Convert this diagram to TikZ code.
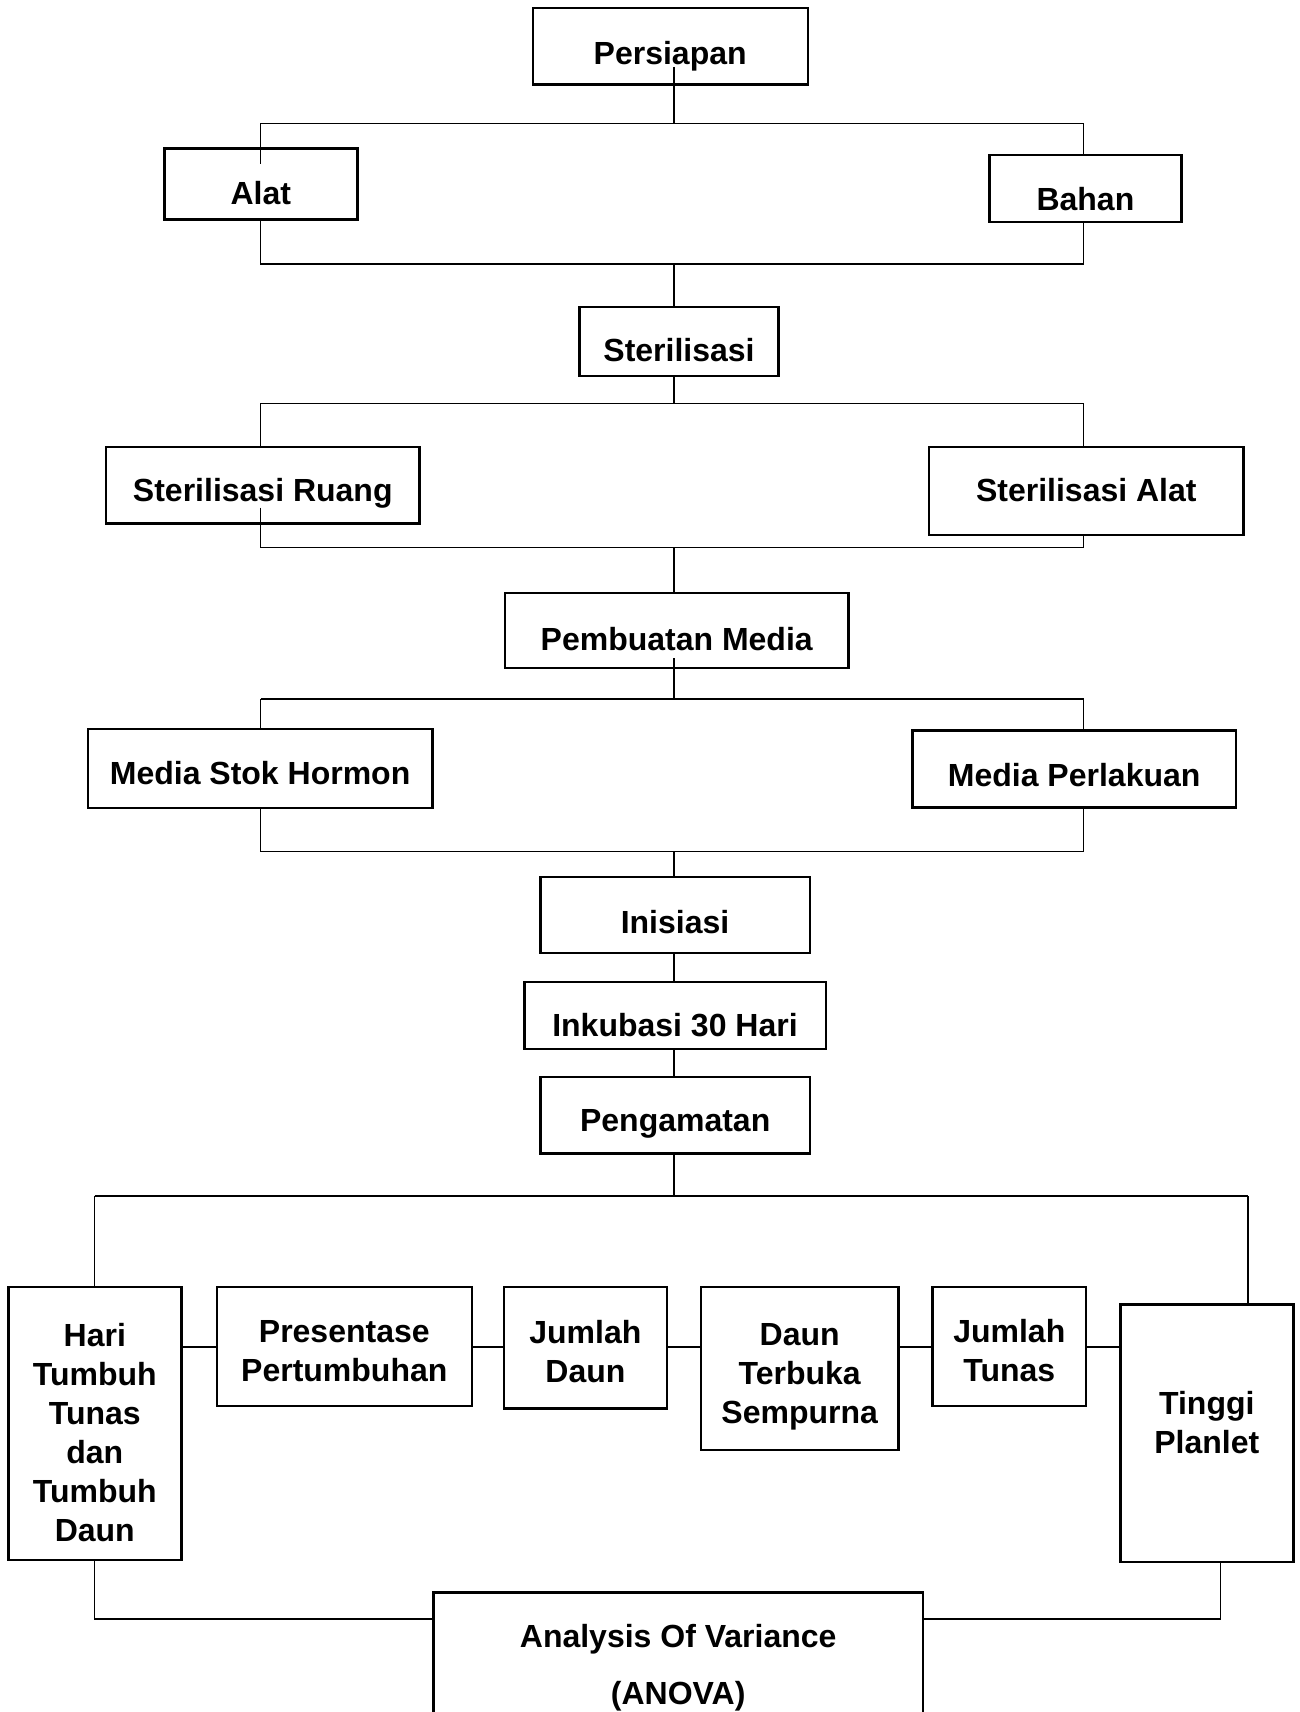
\documentclass[tikz,border=0pt]{standalone}
\usepackage{fontspec}
\setmainfont{Liberation Sans}
\usetikzlibrary{calc}
\tikzset{
  box/.style={draw, line width=2.4pt, rectangle, inner sep=0pt, align=center,
    font=\bfseries\fontsize{32}{39}\selectfont},
  conn/.style={line width=1.1pt},
}
\begin{document}
\begin{tikzpicture}[x=1pt,y=-1pt]
\useasboundingbox (0,0) rectangle (1299,1712);
\clip (0,0) rectangle (1299,1712);
% boxes
\node[box, minimum width=275, minimum height=76.4, text height=37, text depth=0] (persiapan) at (670.2,46.5) {Persiapan};
\node[box, minimum width=193, minimum height=71, text height=40.2, text depth=0] (alat) at (260.8,184.2) {Alat};
\node[box, minimum width=192, minimum height=66.5, text height=45, text depth=0] (bahan) at (1085.4,188.5) {Bahan};
\node[box, minimum width=199.3, minimum height=68.8, text height=40.2, text depth=0] (steril) at (679,341.6) {Sterilisasi};
\node[box, minimum width=313.7, minimum height=76.3, text height=33, text depth=0] (ruang) at (262.8,485.2) {Sterilisasi Ruang};
\node[box, minimum width=314.5, minimum height=88, text height=21, text depth=0] (salat) at (1086.3,491) {Sterilisasi Alat};
\node[box, minimum width=343.8, minimum height=75.3, text height=40, text depth=0] (pembuatan) at (676.7,630.4) {Pembuatan Media};
\node[box, minimum width=344.6, minimum height=79.3, text height=31.4, text depth=0] (stok) at (260.1,768.4) {Media Stok Hormon};
\node[box, minimum width=323.2, minimum height=77, text height=35.4, text depth=0] (perlakuan) at (1074.2,768.8) {Media Perlakuan};
\node[box, minimum width=269.4, minimum height=76.3, text height=36.8, text depth=0] (inisiasi) at (675,914.9) {Inisiasi};
\node[box, minimum width=301.4, minimum height=67.3, text height=41.8, text depth=0] (inkubasi) at (675,1015.4) {Inkubasi 30 Hari};
\node[box, minimum width=269.7, minimum height=76.3, text height=32.6, text depth=0] (pengamatan) at (675.2,1115.2) {Pengamatan};
\node[box, minimum width=173, minimum height=273.3, text height=235.2, text depth=0] (hari) at (94.8,1423.4) {Hari\\Tumbuh\\Tunas\\dan\\Tumbuh\\Daun};
\node[box, minimum width=255.2, minimum height=119, text height=71.2, text depth=0] (pres) at (344.3,1346.2) {Presentase\\Pertumbuhan};
\node[box, minimum width=163, minimum height=121.6, text height=69, text depth=0] (jdaun) at (585.4,1347.5) {Jumlah\\Daun};
\node[box, minimum width=197.3, minimum height=163, text height=109.6, text depth=0] (dts) at (799.7,1368.2) {Daun\\Terbuka\\Sempurna};
\node[box, minimum width=153.7, minimum height=119, text height=71.2, text depth=0] (jtunas) at (1009.3,1346.2) {Jumlah\\Tunas};
\node[box, minimum width=173, minimum height=257.4, text height=40, text depth=0] (tinggi) at (1206.8,1433) {Tinggi\\Planlet};
\node[box, minimum width=489.3, minimum height=166.3, text height=58, text depth=0,
  font=\bfseries\fontsize{32}{57}\selectfont] (anova) at (678.2,1675.8) {Analysis Of Variance\\(ANOVA)};
% junction coordinates
\coordinate (b1l) at (260.5,123.3); \coordinate (b1r) at (1083.5,123.3); \coordinate (b1t) at (674,123.3);
\coordinate (b2l) at (260.5,264); \coordinate (b2r) at (1083.5,264); \coordinate (b2t) at (674,264);
\coordinate (b3l) at (260.5,403.3); \coordinate (b3r) at (1083.5,403.3); \coordinate (b3t) at (674,403.3);
\coordinate (b4l) at (260.5,547.7); \coordinate (b4r) at (1083.5,547.7); \coordinate (b4t) at (674,547.7);
\coordinate (b5l) at (260.5,699); \coordinate (b5r) at (1083.5,699); \coordinate (b5t) at (674,699);
\coordinate (b6l) at (260.5,851.7); \coordinate (b6r) at (1083.5,851.7); \coordinate (b6t) at (674,851.7);
\coordinate (b7l) at (94.5,1196); \coordinate (b7r) at (1248,1196); \coordinate (b7t) at (674,1196);
\coordinate (b8l) at (94.5,1619); \coordinate (b8r) at (1220.5,1619);
\coordinate (row) at (0,1347);
% connectors
\draw[conn] ($(persiapan.south -| b1t)+(0,-19)$) -- (b1t);
\draw[conn] (b1l) -- (b1r);
\draw[conn] (b1l) -- ($(alat.north -| b1l)+(0,17)$);
\draw[conn] (b1r) -- (bahan.north -| b1r);
\draw[conn] (alat.south -| b2l) -- (b2l) -- (b2r) -- (bahan.south -| b2r);
\draw[conn] (b2t) -- (steril.north -| b2t);
\draw[conn] (steril.south -| b3t) -- (b3t);
\draw[conn] (b3l) -- (b3r);
\draw[conn] (b3l) -- (ruang.north -| b3l);
\draw[conn] (b3r) -- (salat.north -| b3r);
\draw[conn] ($(ruang.south -| b4l)+(0,-17)$) -- (b4l) -- (b4r) -- (salat.south -| b4r);
\draw[conn] (b4t) -- (pembuatan.north -| b4t);
\draw[conn] ($(pembuatan.south -| b5t)+(0,-11)$) -- (b5t);
\draw[conn] (b5l) -- (b5r);
\draw[conn] (b5l) -- (stok.north -| b5l);
\draw[conn] (b5r) -- (perlakuan.north -| b5r);
\draw[conn] (stok.south -| b6l) -- (b6l) -- (b6r) -- (perlakuan.south -| b6r);
\draw[conn] (b6t) -- (inisiasi.north -| b6t);
\draw[conn] (inisiasi.south -| b6t) -- (inkubasi.north -| b6t);
\draw[conn] (inkubasi.south -| b6t) -- (pengamatan.north -| b6t);
\draw[conn] (pengamatan.south -| b7t) -- (b7t);
\draw[conn] (b7l) -- (b7r);
\draw[conn] (b7l) -- (hari.north -| b7l);
\draw[conn] (b7r) -- (tinggi.north -| b7r);
\draw[conn] (hari.east |- row) -- (pres.west |- row);
\draw[conn] (pres.east |- row) -- (jdaun.west |- row);
\draw[conn] (jdaun.east |- row) -- (dts.west |- row);
\draw[conn] (dts.east |- row) -- (jtunas.west |- row);
\draw[conn] (jtunas.east |- row) -- (tinggi.west |- row);
\draw[conn] (hari.south -| b8l) -- (b8l) -- (anova.west |- b8l);
\draw[conn] (tinggi.south -| b8r) -- (b8r) -- (anova.east |- b8r);
\end{tikzpicture}
\end{document}
